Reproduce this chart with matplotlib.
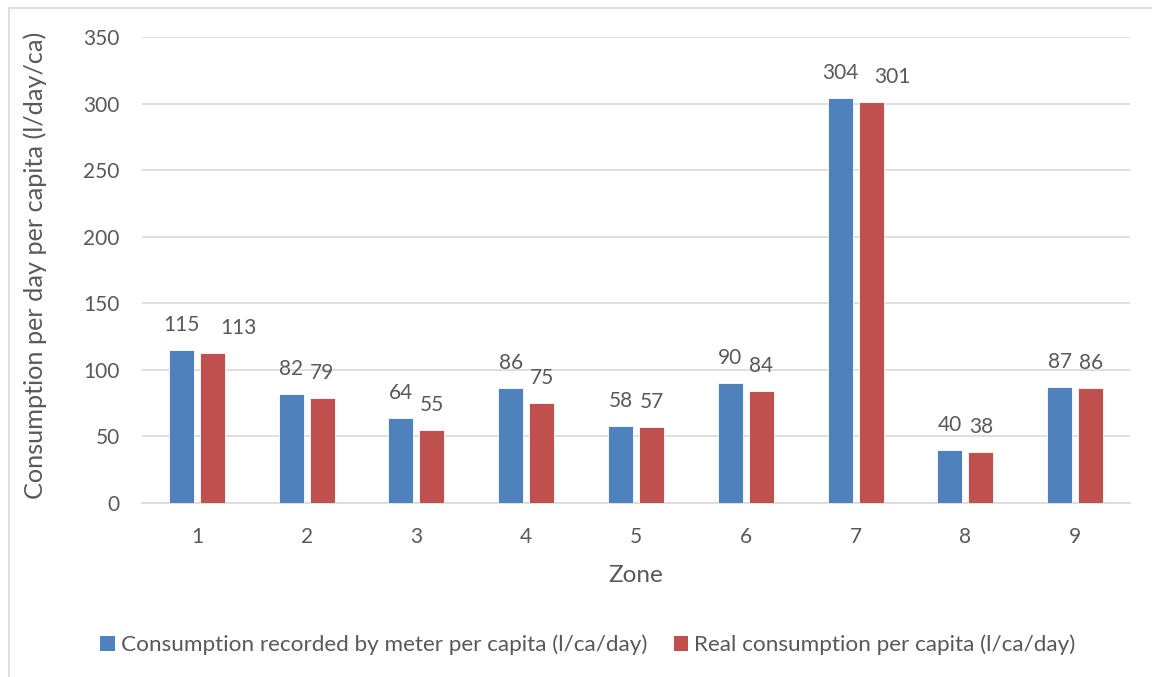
import matplotlib
matplotlib.use("Agg")
import matplotlib.pyplot as plt
from matplotlib.patches import Rectangle, Patch
import numpy as np

zones = ["1", "2", "3", "4", "5", "6", "7", "8", "9"]
metered = [115, 82, 64, 86, 58, 90, 304, 40, 87]
real = [113, 79, 55, 75, 57, 84, 301, 38, 86]
series_names = ["Consumption recorded by meter per capita (l/ca/day)",
                "Real consumption per capita (l/ca/day)"]
y_ticks = [0, 50, 100, 150, 200, 250, 300, 350]

BLUE = "#4F81BD"
RED = "#C0504D"
TEXT = "#595959"
GRID = "#D9D9D9"

plt.rcParams["font.family"] = ["Lato", "DejaVu Sans"]

W, H = 1152, 677
fig = plt.figure(figsize=(W / 100, H / 100), dpi=100)

# outer chart frame (only left and top edges fall inside the canvas)
fig.patches.append(Rectangle((9 / W, -0.1), 1.2, (H - 8) / H + 0.1,
                             transform=fig.transFigure, fill=False,
                             edgecolor=GRID, linewidth=1.2))

ax = fig.add_axes([142 / W, (H - 503) / H, (1130 - 142) / W, (503 - 37) / H])

x = np.arange(1, len(zones) + 1)
bw = 0.228
off = 0.141
b1 = ax.bar(x - off, metered, width=bw, color=BLUE, edgecolor="white",
            linewidth=0.6, zorder=3)
b2 = ax.bar(x + off, real, width=bw, color=RED, edgecolor="white",
            linewidth=0.6, zorder=3)

ax.set_xlim(0.5, len(zones) + 0.5)
ax.set_ylim(0, 350)
ax.set_yticks(y_ticks)
ax.set_xticks(x)
ax.set_xticklabels(zones)
ax.tick_params(axis="both", length=0, labelsize=15, labelcolor=TEXT)
ax.tick_params(axis="y", pad=16)
ax.tick_params(axis="x", pad=17)
ax.grid(axis="y", color=GRID, linewidth=1.2, zorder=0)
for side in ["top", "right", "left"]:
    ax.spines[side].set_visible(False)
ax.spines["bottom"].set_color(GRID)
ax.spines["bottom"].set_linewidth(1.2)

# value labels; a few are nudged sideways to keep them clear of neighbours
nudge_red = {0: 19, 6: 15}
for i, (bar, v) in enumerate(zip(b1, metered)):
    ax.annotate(str(v), (bar.get_x() + bar.get_width() / 2, v),
                xytext=(0, 18), textcoords="offset points",
                ha="center", va="center", fontsize=15, color=TEXT)
for i, (bar, v) in enumerate(zip(b2, real)):
    ax.annotate(str(v), (bar.get_x() + bar.get_width() / 2, v),
                xytext=(nudge_red.get(i, 0), 18), textcoords="offset points",
                ha="center", va="center", fontsize=15, color=TEXT)

fig.text(35 / W, 1 - 265 / H, "Consumption per day per capita (l/day/ca)",
         rotation=90, ha="center", va="center", fontsize=18.2, color=TEXT)
fig.text(636 / W, 1 - 575 / H, "Zone", ha="center", va="center",
         fontsize=17.5, color=TEXT)

handles = [Patch(facecolor=BLUE), Patch(facecolor=RED)]
fig.legend(handles, series_names, loc="center", bbox_to_anchor=(588 / W, 1 - 645 / H),
           ncol=2, frameon=False, fontsize=16.2, labelcolor=TEXT,
           handlelength=0.63, handleheight=0.63, handletextpad=0.3,
           columnspacing=1.15)

fig.savefig("out.png", dpi=100)
